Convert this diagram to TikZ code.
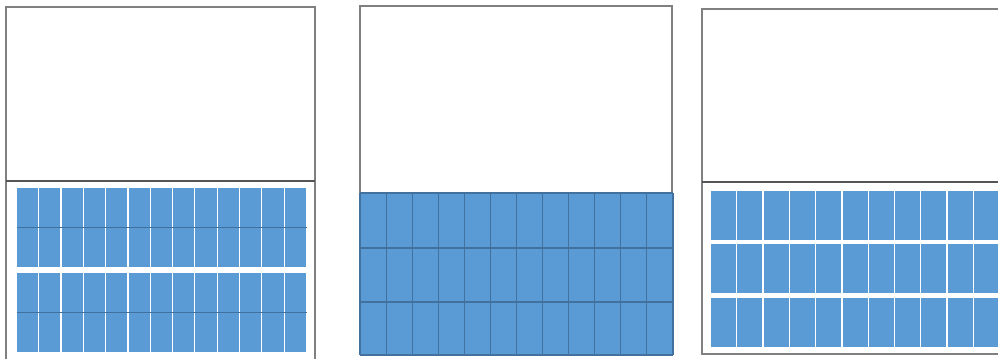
\documentclass[tikz,border=0pt]{standalone}
\usepackage{tikz}
\usepackage{xcolor}
\definecolor{cellblue}{RGB}{91,155,213}
\definecolor{celledge}{RGB}{65,113,156}
\definecolor{framegrey}{RGB}{128,128,128}
\definecolor{splitgrey}{RGB}{85,85,85}

\begin{document}
\begin{tikzpicture}[x=0.75pt, y=-0.75pt]
  \useasboundingbox (0,0) rectangle (998,358);
  \clip (0,0) rectangle (998,358);

  % Left: two strips of 13 x 2
  \draw[framegrey, line width=1.2pt] (6,7) rectangle (315,362);
  \foreach \y in {188,273}{
    \foreach \i in {0,...,12}{
      \fill[cellblue] ({17+22.31*\i},\y) rectangle ({17+22.31*(\i+1)-1.2},{\y+78.5});
    }
    \draw[celledge, line width=0.5pt] (17,{\y+39.5}) -- (307,{\y+39.5});
  }
  \draw[splitgrey, line width=1.4pt] (6,181) -- (315,181);

  % Middle: one block 12 x 3
  \draw[framegrey, line width=1.2pt] (360,6) rectangle (672,193);
  \fill[cellblue] (360,193) rectangle (673,355);
  \foreach \i in {0,...,12}
    \draw[celledge, line width=0.8pt] ({360+26.08*\i},193) -- ++(0,162);
  \foreach \y in {193,248,302,355}
    \draw[celledge, line width=0.8pt] (360,\y) -- (673,\y);

  % Right: three strips of 12 x 1 (cut at the edge)
  \draw[framegrey, line width=1.2pt] (1010,9) -- (702,9) -- (702,354) -- (1010,354);
  \draw[splitgrey, line width=1.4pt] (702,182) -- (1010,182);
  \foreach \y in {191,244,298}{
    \foreach \i in {0,...,11}{
      \fill[cellblue] ({711+26.3*\i},\y) rectangle ({711+26.3*(\i+1)-1.3},{\y+48.5});
    }
  }
\end{tikzpicture}
\end{document}
